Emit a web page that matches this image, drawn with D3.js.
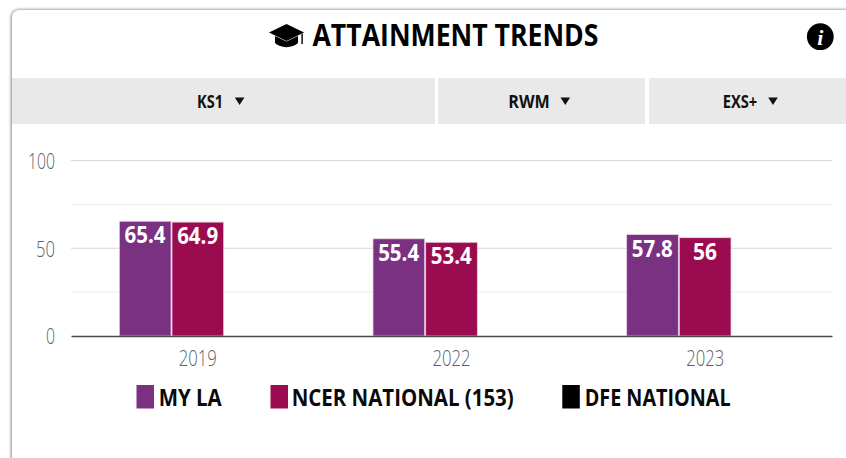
<!DOCTYPE html>
<html><head><meta charset="utf-8">
<style>html,body{margin:0;padding:0;background:#fff;overflow:hidden}svg{display:block}text{font-family:"Open Sans","Noto Sans",sans-serif}</style>
<script src="https://cdn.jsdelivr.net/npm/d3@7"></script></head><body>
<svg id="c" width="846" height="458"></svg>
<script>
const categories=["2019","2022","2023"];
const seriesNames=["MY LA","NCER NATIONAL (153)","DFE NATIONAL"];
const seriesColors=["#7b3182","#9a0c4f","#000000"];
const myLA=[65.4,55.4,57.8];
const ncerNational=[64.9,53.4,56];
const dfeNational=[null,null,null];
const seriesValues=[myLA,ncerNational,dfeNational];
const yTicks=[0,50,100];
const yMinorTicks=[25,75];
const filters=["KS1","RWM","EXS+"];
const titleText="ATTAINMENT TRENDS";

const svg=d3.select("#c");
const defs=svg.append("defs");
const f=defs.append("filter").attr("id","sh").attr("x","-5%").attr("y","-5%").attr("width","110%").attr("height","110%");
f.append("feGaussianBlur").attr("stdDeviation",1.5);

function label(g,x,y,t,size,weight,fill,len,anchor){
  const n=g.append("text").attr("x",x).attr("y",y).attr("font-size",size).attr("font-weight",weight)
    .attr("fill",fill).attr("text-anchor",anchor||"middle").text(t);
  if(len) n.attr("textLength",len).attr("lengthAdjust","spacingAndGlyphs");
  return n;
}

// card
svg.append("rect").attr("x",11).attr("y",9.5).attr("width",880).attr("height",520).attr("rx",8)
  .attr("fill","#888").attr("filter","url(#sh)");
svg.append("rect").attr("x",12).attr("y",10).attr("width",880).attr("height",520).attr("rx",7).attr("fill","#fff");

// title icon
const cap=svg.append("g").attr("transform","translate(269,24)");
cap.append("path").attr("d","M6 12 L29 12 L29 19 C24 24.5 11 24.5 6 19 Z").attr("fill","#000");
cap.append("path").attr("d","M17.5 0 L35 8.5 L17.5 17 L0 8.5 Z").attr("fill","#000").attr("stroke","#fff").attr("stroke-width",1.1).attr("paint-order","stroke");
cap.append("path").attr("d","M32.4 10 L33.8 9.4 L33.8 20 L32.4 20 Z").attr("fill","#000");
label(svg,455.5,45.7,titleText,31,700,"#000",286);
// info icon
svg.append("circle").attr("cx",820.3).attr("cy",36.7).attr("r",13.4).attr("fill","#000");
svg.append("text").attr("x",820.3).attr("y",44.5).attr("text-anchor","middle").attr("font-size",22)
  .attr("font-weight",800).attr("font-style","italic").attr("fill","#fff").style("font-family","'Liberation Serif',serif").text("i");

// filters
const filterSpan=[[12,435],[438,645],[649,846]];
const filterTextX=[210,529,740];
const filterTextW=[26,41.5,34.5];
const filterArrowX=[239.6,565.3,773];
filters.forEach((t,i)=>{
  const [a,b]=filterSpan[i];
  svg.append("rect").attr("x",a).attr("y",78).attr("width",b-a).attr("height",46).attr("fill","#e9e9e9");
  label(svg,filterTextX[i],107.6,t,17.5,700,"#111",filterTextW[i]);
  svg.append("path").attr("d",`M${filterArrowX[i]-4.8} 97.5 h9.6 l-4.8 7.5 z`).attr("fill","#111");
});

// chart
const x0=d3.scaleBand().domain(categories).range([71,832]);
const groupW=158;
const x1=d3.scaleBand().domain(d3.range(seriesNames.length)).range([0,groupW]);
const y=d3.scaleLinear().domain([0,100]).range([336,160.5]);

const grid=svg.append("g");
grid.selectAll("line.minor").data(yMinorTicks).join("line").attr("class","minor")
  .attr("x1",71).attr("x2",832).attr("y1",d=>y(d)).attr("y2",d=>y(d)).attr("stroke","#ececec").attr("stroke-width",1);
grid.selectAll("line.major").data(yTicks.filter(d=>d>0)).join("line").attr("class","major")
  .attr("x1",71).attr("x2",832).attr("y1",d=>y(d)).attr("y2",d=>y(d)).attr("stroke","#d8d8d8").attr("stroke-width",1);

const yAxis=d3.axisLeft(y).tickValues(yTicks).tickSize(0).tickPadding(0);
const yg=svg.append("g").attr("transform","translate(55,0)").call(yAxis);
yg.select(".domain").remove();
yg.selectAll("text").attr("font-size",22).attr("font-weight",300).attr("fill","#56626c").attr("dy","0.36em")
  .attr("textLength",d=>d===100?27:d===50?19:9).attr("lengthAdjust","spacingAndGlyphs");

const groups=svg.append("g").selectAll("g").data(categories).join("g")
  .attr("transform",d=>`translate(${x0(d)+x0.bandwidth()/2-groupW/2},0)`);
seriesValues.forEach((vals,s)=>{
  groups.filter((d,i)=>vals[i]!=null).each(function(d){
    const i=categories.indexOf(d), v=vals[i], g=d3.select(this);
    g.append("rect").attr("x",x1(s)+0.5).attr("y",y(v)).attr("width",x1.bandwidth()-1)
      .attr("height",y(0)-y(v)).attr("fill",seriesColors[s]).attr("stroke","#e6cfe0").attr("stroke-width",0.8);
    const t=String(v);
    label(g,x1(s)+x1.bandwidth()/2-0.2,y(v)+22,t,22.5,700,"#fff",t.length>2?41:24);
  });
});

const xAxis=d3.axisBottom(x0).tickSize(0).tickPadding(0);
const xg=svg.append("g").attr("transform","translate(0,336)").call(xAxis);
xg.select(".domain").attr("stroke","#4a4a4a").attr("stroke-width",1.3);
xg.selectAll("text").attr("font-size",22).attr("font-weight",300).attr("fill","#56626c").attr("y",30).attr("dy",0)
  .attr("textLength",38).attr("lengthAdjust","spacingAndGlyphs");

// legend
const legX=[136.5,270.5,562.3], legTextX=[158.7,291.7,584.7], legW=[63,222,146];
seriesNames.forEach((n,i)=>{
  svg.append("rect").attr("x",legX[i]).attr("y",385).attr("width",17.5).attr("height",23.5).attr("fill",seriesColors[i]);
  label(svg,legTextX[i],405.7,n,23.5,700,"#0a0a0a",legW[i],"start");
});
</script></body></html>
